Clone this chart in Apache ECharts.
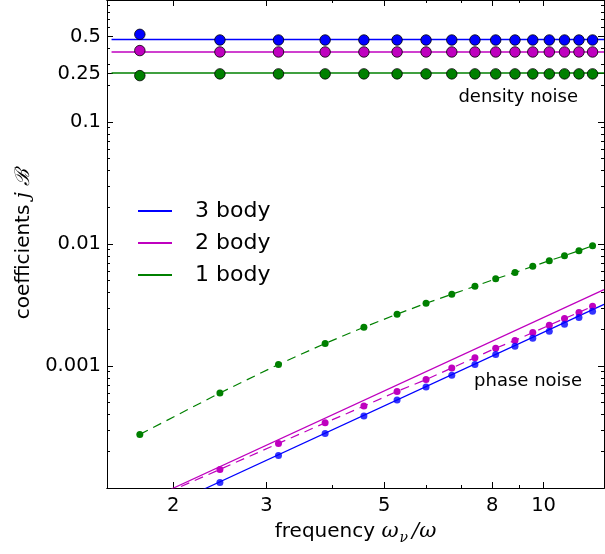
<!DOCTYPE html>
<html>
<head>
<meta charset="utf-8">
<script src="https://cdn.jsdelivr.net/npm/echarts@6/dist/echarts.min.js"></script>
<style>
html,body{margin:0;padding:0;background:#fff;}
#chart{width:605px;height:554px;}
</style>
</head>
<body>
<div id="chart"></div>
<script>
// ---- data ----
const freq = [1.73, 2.45, 3.16, 3.87, 4.58, 5.29, 6.00, 6.71, 7.42, 8.12, 8.83, 9.54, 10.25, 10.95, 11.66, 12.37];

// density noise (large dots)
const density3 = [0.523, 0.47, 0.47, 0.47, 0.47, 0.47, 0.47, 0.47, 0.47, 0.47, 0.47, 0.47, 0.47, 0.47, 0.47, 0.47];
const density2 = [0.385, 0.375, 0.375, 0.375, 0.375, 0.375, 0.375, 0.375, 0.375, 0.375, 0.375, 0.375, 0.375, 0.375, 0.375, 0.375];
const density1 = [0.240, 0.248, 0.248, 0.248, 0.248, 0.248, 0.248, 0.248, 0.248, 0.248, 0.248, 0.248, 0.248, 0.248, 0.248, 0.248];
const densityLineX = [1.53, 13];
const densityLevel3 = [0.475, 0.475];
const densityLevel2 = [0.375, 0.375];
const densityLevel1 = [0.252, 0.252];

// phase noise (small dots)
const phase1 = [2.75e-4, 6.01e-4, 1.03e-3, 1.53e-3, 2.08e-3, 2.66e-3, 3.27e-3, 3.87e-3, 4.50e-3, 5.18e-3, 5.83e-3, 6.56e-3, 7.30e-3, 8.02e-3, 8.82e-3, 9.68e-3];
const phase2 = [7.3e-5, 1.42e-4, 2.32e-4, 3.42e-4, 4.69e-4, 6.19e-4, 7.74e-4, 9.63e-4, 1.17e-3, 1.40e-3, 1.62e-3, 1.88e-3, 2.16e-3, 2.45e-3, 2.75e-3, 3.09e-3];
const phase3 = [null, 1.11e-4, 1.85e-4, 2.80e-4, 3.90e-4, 5.27e-4, 6.73e-4, 8.39e-4, 1.03e-3, 1.24e-3, 1.45e-3, 1.69e-3, 1.93e-3, 2.20e-3, 2.50e-3, 2.81e-3];

// straight reference lines (phase noise)
const theoryX = [1.5, 13];
const theory2 = [5.6e-5, 4.23e-3];
const theory3 = [4.2e-5, 3.2e-3];

// axes
const xRange = [1.5, 13];
const yRange = [1e-4, 1];
const xTickValues = [2, 3, 5, 8, 10];
const xTickLabels = ['2', '3', '5', '8', '10'];
const xMinorTicks = [4, 6, 7, 9];
const yTickValues = [0.001, 0.01, 0.1, 0.25, 0.5];
const yTickLabels = ['0.001', '0.01', '0.1', '0.25', '0.5'];
const yMajorTicks = [1e-4, 1e-3, 1e-2, 0.1, 0.25, 0.5, 1];
const yMinorTicks = [];
[-4, -3, -2, -1].forEach(function (e) {
  [2, 3, 4, 5, 6, 7, 8, 9].forEach(function (k) { yMinorTicks.push(k * Math.pow(10, e)); });
});

const legendNames = ['3 body', '2 body', '1 body'];
const BLUE = '#0000ff', MAG = '#bf00bf', GREEN = '#008000';

// ---- helpers ----
const L = Math.log10;
function pts(xs, ys) {
  const out = [];
  for (let i = 0; i < xs.length; i++) {
    if (ys[i] != null) out.push([L(xs[i]), L(ys[i])]);
  }
  return out;
}
function fmt(vals, labels) {
  return function (v) {
    for (let i = 0; i < vals.length; i++) {
      if (Math.abs(L(vals[i]) - v) < 1e-6) return labels[i];
    }
    return '';
  };
}

const FONT = 'DejaVu Sans';
const MAJ = 6, MIN = 3;

function xAx(pos, ticks, len, labels) {
  return {
    type: 'value', position: pos, min: L(xRange[0]), max: L(xRange[1]),
    splitLine: { show: false },
    axisLine: { show: true, onZero: false, lineStyle: { color: '#000', width: 1 } },
    axisTick: { show: true, inside: true, length: len, customValues: ticks.map(L), lineStyle: { color: '#000', width: 1 } },
    axisLabel: labels ? {
      show: true, customValues: xTickValues.map(L), formatter: fmt(xTickValues, xTickLabels),
      color: '#000', fontSize: 19.5, fontFamily: FONT, margin: 8
    } : { show: false }
  };
}
function yAx(pos, ticks, len, labels) {
  return {
    type: 'value', position: pos, min: L(yRange[0]), max: L(yRange[1]),
    splitLine: { show: false },
    axisLine: { show: true, onZero: false, lineStyle: { color: '#000', width: 1 } },
    axisTick: { show: true, inside: true, length: len, customValues: ticks.map(L), lineStyle: { color: '#000', width: 1 } },
    axisLabel: labels ? {
      show: true, customValues: yTickValues.map(L), formatter: fmt(yTickValues, yTickLabels),
      color: '#000', fontSize: 19.5, fontFamily: FONT, margin: 6
    } : { show: false }
  };
}

const xAxes = [
  xAx('bottom', xTickValues, MAJ, true),
  xAx('bottom', xMinorTicks, MIN, false),
  xAx('top', xTickValues, MAJ, false),
  xAx('top', xMinorTicks, MIN, false)
];
xAxes[0].name = '{a|frequency }{w|ω}{n|ν}{s|/ω}';
xAxes[0].nameLocation = 'middle';
xAxes[0].nameGap = 29;
xAxes[0].nameTextStyle = {
  rich: {
    a: { fontFamily: FONT, fontSize: 20, color: '#000', lineHeight: 28, verticalAlign: 'middle' },
    w: { fontFamily: 'DejaVu Serif', fontStyle: 'italic', fontSize: 21, color: '#000', lineHeight: 28, verticalAlign: 'middle' },
    n: { fontFamily: 'DejaVu Serif', fontStyle: 'italic', fontSize: 14, color: '#000', lineHeight: 14, verticalAlign: 'bottom', padding: [0, 4, 0, 1] },
    s: { fontFamily: 'DejaVu Serif', fontStyle: 'italic', fontSize: 21, color: '#000', lineHeight: 28, verticalAlign: 'middle' }
  }
};

const yAxes = [
  yAx('left', yMajorTicks, MAJ, true),
  yAx('left', yMinorTicks, MIN, false),
  yAx('right', yMajorTicks, MAJ, false),
  yAx('right', yMinorTicks, MIN, false)
];
yAxes[0].name = '{a|coefficients }{j|j}{a| }{b|ℬ}';
yAxes[0].nameLocation = 'middle';
yAxes[0].nameGap = 73;
yAxes[0].nameRotate = 90;
yAxes[0].nameTextStyle = {
  rich: {
    a: { fontFamily: FONT, fontSize: 20, color: '#000' },
    j: { fontFamily: 'DejaVu Serif', fontStyle: 'italic', fontSize: 20, color: '#000' },
    b: { fontFamily: 'DejaVu Serif', fontStyle: 'italic', fontSize: 20, color: '#000' }
  }
};

function flatLine(name, ys, color) {
  return {
    name: name, type: 'line', xAxisIndex: 0, yAxisIndex: 0,
    data: pts(densityLineX, ys), showSymbol: false, symbol: 'none',
    color: color, lineStyle: { color: color, width: 1.5 }, z: 2, silent: true
  };
}
function bigDots(name, ys, color) {
  return {
    name: name, type: 'scatter', xAxisIndex: 0, yAxisIndex: 0,
    data: pts(freq, ys), symbol: 'circle', symbolSize: 10.5,
    itemStyle: { color: color, borderColor: '#000', borderWidth: 0.8, opacity: 1 }, z: 4, silent: true
  };
}

const series = [
  flatLine('3 body', densityLevel3, BLUE),
  flatLine('2 body', densityLevel2, MAG),
  flatLine('1 body', densityLevel1, GREEN),
  bigDots('d3', density3, BLUE),
  bigDots('d2', density2, MAG),
  bigDots('d1', density1, GREEN),
  {
    name: 'p1', type: 'line', data: pts(freq, phase1), clip: true,
    symbol: 'circle', symbolSize: 7, showSymbol: true,
    itemStyle: { color: GREEN, borderWidth: 0 },
    lineStyle: { color: GREEN, width: 1.2, type: [9, 6] }, z: 3, silent: true
  },
  {
    name: 'p2', type: 'line', data: pts(freq, phase2), clip: true,
    symbol: 'circle', symbolSize: 7, showSymbol: true,
    itemStyle: { color: MAG, borderWidth: 0 },
    lineStyle: { color: MAG, width: 1.2, type: [9, 6] }, z: 3, silent: true
  },
  {
    name: 'p3', type: 'scatter', data: pts(freq, phase3), clip: true,
    symbol: 'circle', symbolSize: 7,
    itemStyle: { color: BLUE, borderWidth: 0 }, z: 3, silent: true
  },
  {
    name: 't2', type: 'line', data: pts(theoryX, theory2), clip: true, showSymbol: false, symbol: 'none',
    lineStyle: { color: MAG, width: 1.2 }, z: 2, silent: true
  },
  {
    name: 't3', type: 'line', data: pts(theoryX, theory3), clip: true, showSymbol: false, symbol: 'none',
    lineStyle: { color: BLUE, width: 1.2 }, z: 2, silent: true
  }
];

const chart = echarts.init(document.getElementById('chart'), null, { renderer: 'canvas' });
chart.setOption({
  animation: false,
  backgroundColor: '#fff',
  textStyle: { fontFamily: FONT },
  grid: { left: 107, right: 1, top: -1, bottom: 66, containLabel: false },
  xAxis: xAxes,
  yAxis: yAxes,
  legend: {
    data: legendNames,
    orient: 'vertical', left: 133, top: 195,
    icon: 'rect', itemWidth: 34, itemHeight: 2, itemGap: 10,
    selectedMode: false,
    textStyle: { fontFamily: FONT, fontSize: 22, color: '#000', lineHeight: 22, padding: [0, 0, 0, 18] }
  },
  graphic: [
    { type: 'text', silent: true, style: { text: 'density noise', x: 578, y: 97, align: 'right', verticalAlign: 'middle', font: '18px "DejaVu Sans"', fill: '#000' } },
    { type: 'text', silent: true, style: { text: 'phase noise', x: 582, y: 381, align: 'right', verticalAlign: 'middle', font: '18px "DejaVu Sans"', fill: '#000' } }
  ],
  series: series
});
</script>
</body>
</html>
